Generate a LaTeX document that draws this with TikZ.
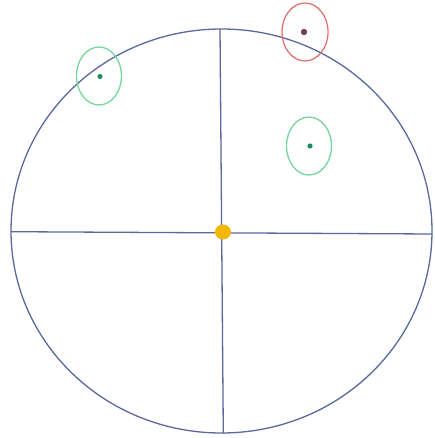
\documentclass[tikz,border=0pt]{standalone}
\begin{document}
\begin{tikzpicture}[x=1pt,y=-1pt,
  axisline/.style={draw=axiscol,line width=1.3pt},
  greenring/.style={draw=ringgreen,line width=1.3pt},
  redring/.style={draw=ringred,line width=1.3pt}]
\definecolor{axiscol}{HTML}{5A68A0}
\definecolor{ringgreen}{HTML}{74D69C}
\definecolor{ringred}{HTML}{E07474}
\definecolor{dotgreen}{HTML}{1F8F63}
\definecolor{dotred}{HTML}{7A3A5A}
\definecolor{centercol}{HTML}{F5B800}
\useasboundingbox (0,0) rectangle (434,438);
% big circle
\draw[axisline] (221.5,231) ellipse [x radius=210.5, y radius=202];
% axes
\coordinate (L) at (11,231.7);
\coordinate (R) at (432,234);
\coordinate (T) at (220,29);
\coordinate (B) at (223.3,433);
\draw[axisline] (L) -- (R);
\draw[axisline] (T) -- (B);
% center
\fill[centercol] (223,232) ellipse [x radius=8, y radius=7.5];
% red ring
\draw[redring] (305,32) ellipse [x radius=23, y radius=29];
\fill[dotred] (304,32) circle (3.2);
% green rings
\draw[greenring] (99,76) ellipse [x radius=22.5, y radius=29];
\fill[dotgreen] (100,76.5) circle (2.6);
\draw[greenring] (309,146) ellipse [x radius=22.5, y radius=29];
\fill[dotgreen] (310,146) circle (2.6);
\end{tikzpicture}
\end{document}
